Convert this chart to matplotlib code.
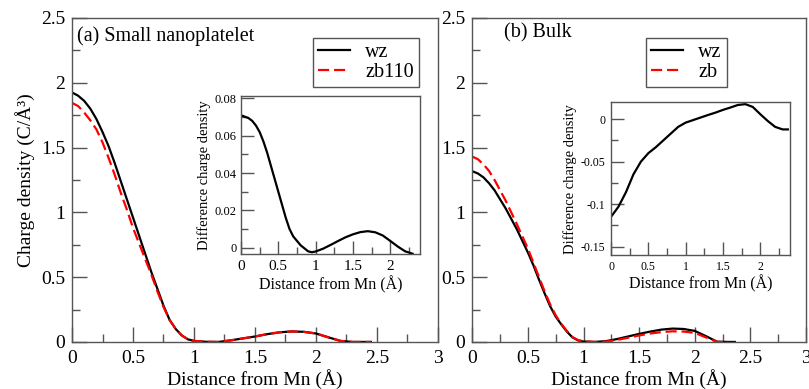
import matplotlib

matplotlib.use("Agg")
import matplotlib.pyplot as plt
from matplotlib.ticker import MultipleLocator

plt.rcParams["font.family"] = ["Liberation Serif", "DejaVu Serif"]

# panel (a): small nanoplatelet
x_a = [0.0, 0.05, 0.1, 0.15, 0.2, 0.25, 0.3, 0.35, 0.4, 0.45, 0.5, 0.55, 0.6,
       0.65, 0.7, 0.75, 0.8, 0.85, 0.9, 0.95, 1.0, 1.1, 1.2, 1.3, 1.4, 1.5,
       1.6, 1.7, 1.8, 1.9, 2.0, 2.1, 2.2, 2.3, 2.45]
wz_a = [1.925, 1.90, 1.86, 1.80, 1.72, 1.62, 1.51, 1.38, 1.24, 1.10, 0.96,
        0.82, 0.68, 0.54, 0.41, 0.28, 0.17, 0.10, 0.05, 0.02, 0.008, 0.001,
        0.0, 0.012, 0.027, 0.042, 0.060, 0.074, 0.081, 0.078, 0.065, 0.036,
        0.008, 0.0, 0.0]
zb110_a = [1.845, 1.82, 1.77, 1.71, 1.64, 1.54, 1.42, 1.29, 1.15, 1.02, 0.88,
           0.76, 0.64, 0.52, 0.39, 0.27, 0.17, 0.10, 0.05, 0.02, 0.008, 0.001,
           0.0, 0.012, 0.027, 0.042, 0.060, 0.074, 0.081, 0.078, 0.065, 0.036,
           0.008, 0.0, 0.0]

# panel (b): bulk
x_b = [0.0, 0.05, 0.1, 0.15, 0.2, 0.25, 0.3, 0.35, 0.4, 0.45, 0.5, 0.55, 0.6,
       0.65, 0.7, 0.75, 0.8, 0.85, 0.9, 0.95, 1.0, 1.1, 1.2, 1.3, 1.4, 1.5,
       1.6, 1.7, 1.8, 1.9, 2.0, 2.1, 2.2, 2.3, 2.36]
wz_b = [1.317, 1.30, 1.27, 1.225, 1.17, 1.10, 1.03, 0.95, 0.87, 0.78, 0.69,
        0.59, 0.48, 0.375, 0.275, 0.195, 0.135, 0.08, 0.035, 0.012, 0.003,
        0.0, 0.006, 0.022, 0.042, 0.062, 0.080, 0.095, 0.103, 0.100, 0.085,
        0.045, 0.002, 0.0, 0.0]
zb_b = [1.43, 1.41, 1.37, 1.32, 1.25, 1.17, 1.09, 1.00, 0.91, 0.815, 0.72,
        0.61, 0.50, 0.39, 0.29, 0.205, 0.14, 0.085, 0.038, 0.014, 0.005,
        0.0, 0.003, 0.015, 0.032, 0.050, 0.065, 0.076, 0.082, 0.080, 0.070,
        0.035, 0.0, 0.0, 0.0]

# insets: difference charge density
xi_a = [0.0, 0.1, 0.15, 0.2, 0.25, 0.3, 0.35, 0.4, 0.45, 0.5, 0.55, 0.6, 0.65,
        0.7, 0.8, 0.9, 0.95, 1.0, 1.1, 1.2, 1.3, 1.4, 1.5, 1.6, 1.7, 1.8, 1.9,
        2.0, 2.1, 2.2, 2.3]
diff_a = [0.0710, 0.0695, 0.0680, 0.0655, 0.0620, 0.0570, 0.0510, 0.0440,
          0.0370, 0.0300, 0.0230, 0.0160, 0.0100, 0.0060, 0.0012, -0.0020,
          -0.0025, -0.0021, -0.0006, 0.0014, 0.0035, 0.0055, 0.0071, 0.0083,
          0.0088, 0.0082, 0.0065, 0.0036, 0.0006, -0.0020, -0.0033]
xi_b = [0.0, 0.1, 0.2, 0.3, 0.4, 0.5, 0.6, 0.7, 0.8, 0.9, 1.0, 1.1, 1.2, 1.3,
        1.4, 1.5, 1.6, 1.7, 1.8, 1.9, 2.0, 2.1, 2.2, 2.3, 2.37]
diff_b = [-0.115, -0.103, -0.086, -0.065, -0.050, -0.040, -0.033, -0.025,
          -0.017, -0.009, -0.004, -0.001, 0.002, 0.005, 0.0078, 0.011, 0.0138,
          0.0168, 0.0178, 0.0145, 0.006, -0.002, -0.009, -0.012, -0.012]

FRAME = "#555555"


def style_axes(ax, xmaj, xmin, ymaj, ymin, big, small, size, pad):
    for sp in ax.spines.values():
        sp.set_color(FRAME)
        sp.set_linewidth(1.0)
    ax.xaxis.set_major_locator(MultipleLocator(xmaj))
    ax.xaxis.set_minor_locator(MultipleLocator(xmin))
    ax.yaxis.set_major_locator(MultipleLocator(ymaj))
    ax.yaxis.set_minor_locator(MultipleLocator(ymin))
    ax.tick_params(which="both", direction="in", color=FRAME, width=1.0,
                   top=False, right=False, labelsize=size)
    ax.tick_params(which="major", length=big, pad=pad)
    ax.tick_params(which="minor", length=small)


def fmt(v, pos):
    return f"{v:g}"


fig = plt.figure(figsize=(8.09, 3.89), dpi=100)

ax_a = fig.add_axes([0.089, 0.121, 0.4524, 0.8329])
ax_b = fig.add_axes([0.5838, 0.121, 0.4125, 0.8329])

ax_a.plot(x_a, wz_a, color="black", lw=1.6, label="wz")
ax_a.plot(x_a, zb110_a, color="red", lw=1.6, ls=(0, (5, 2.2)), label="zb110")
ax_b.plot(x_b, wz_b, color="black", lw=1.6, label="wz")
ax_b.plot(x_b[:-1], zb_b[:-1], color="red", lw=1.6, ls=(0, (5, 2.2)), label="zb")

for ax in (ax_a, ax_b):
    ax.set_xlim(0, 3)
    ax.set_ylim(0, 2.5)
    style_axes(ax, 0.5, 0.25, 0.5, 0.25, 11, 5.5, 14, 5)
    ax.tick_params(axis="x", which="major", pad=6)
    ax.xaxis.set_major_formatter(fmt)
    ax.yaxis.set_major_formatter(fmt)
    ax.set_xlabel("Distance from Mn (Å)", fontsize=14, labelpad=1)

ax_a.set_ylabel("Charge density (C/Å³)", fontsize=14, labelpad=4)
ax_a.text(0.013, 0.975, "(a) Small nanoplatelet", transform=ax_a.transAxes,
          fontsize=14.5, va="top")
ax_b.text(0.095, 0.985, "(b) Bulk", transform=ax_b.transAxes,
          fontsize=14.5, va="top")

leg_kw = dict(fontsize=14.5, frameon=True, fancybox=False, framealpha=1,
              edgecolor=FRAME, handlelength=1.6, handletextpad=0.75,
              labelspacing=0.05, borderpad=0.25, borderaxespad=0,
              loc="upper right")
lg = ax_a.legend(bbox_to_anchor=(0.518, 0.902),
                 bbox_transform=fig.transFigure, **leg_kw)
lg.get_frame().set_linewidth(1.0)
lg = ax_b.legend(bbox_to_anchor=(0.8986, 0.902),
                 bbox_transform=fig.transFigure, **leg_kw)
lg.get_frame().set_linewidth(1.0)

# insets
in_a = fig.add_axes([0.2979, 0.3463, 0.2213, 0.4077])
in_a.plot(xi_a, diff_a, color="black", lw=1.6)
in_a.set_xlim(0, 2.4)
in_a.set_ylim(-0.0036, 0.0815)
style_axes(in_a, 0.5, 0.25, 0.02, 0.01, 9.5, 5, 11, 4)
in_a.tick_params(axis="y", labelsize=9, pad=3)
in_a.xaxis.set_major_formatter(fmt)
in_a.yaxis.set_major_formatter(fmt)
in_a.set_xlabel("Distance from Mn (Å)", fontsize=11.5, labelpad=2)
in_a.set_ylabel("Difference charge density", fontsize=10.5, labelpad=3)

in_b = fig.add_axes([0.7553, 0.3445, 0.2213, 0.3926])
in_b.plot(xi_b, diff_b, color="black", lw=1.6)
in_b.set_xlim(0, 2.4)
in_b.set_ylim(-0.16, 0.02)
style_axes(in_b, 0.5, 0.25, 0.05, 0.025, 9.5, 5, 8.5, 4)
in_b.xaxis.set_major_formatter(fmt)
in_b.yaxis.set_major_formatter(fmt)
in_b.set_xlabel("Distance from Mn (Å)", fontsize=11.5, labelpad=2)
in_b.set_ylabel("Difference charge density", fontsize=10.5, labelpad=3)

fig.savefig("out.png", dpi=100)
